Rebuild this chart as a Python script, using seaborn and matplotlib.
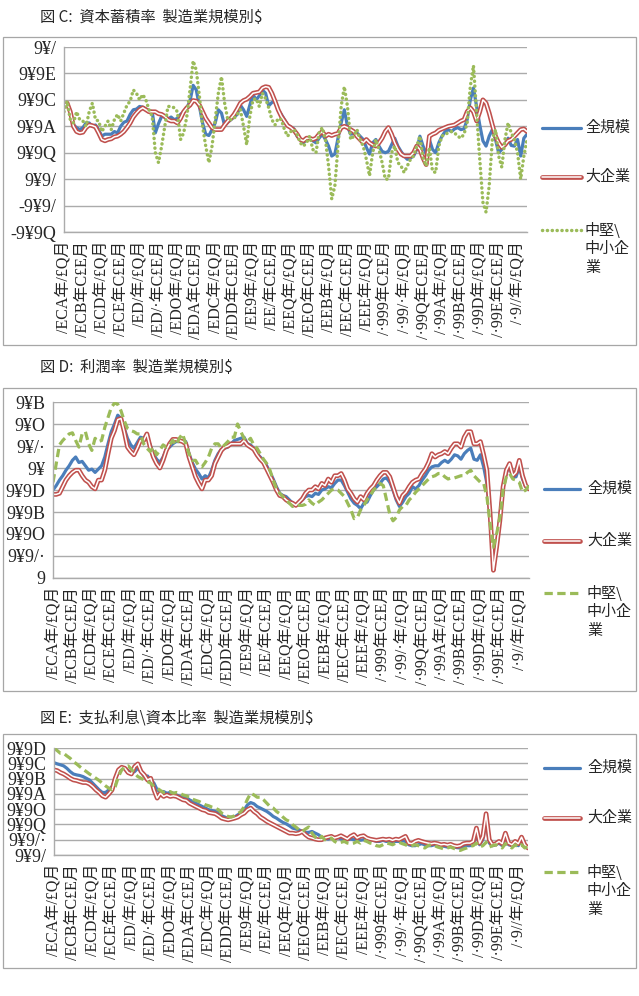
import matplotlib
matplotlib.use("Agg")
import matplotlib.patheffects as pe
import matplotlib.pyplot as plt
import numpy as np
import seaborn as sns
from matplotlib.lines import Line2D
from matplotlib.patches import Rectangle

# quarterly index, 1975 Q1 .. 2011 Q4
QUARTERS = np.arange(148)
TICK_LABELS = [
    "/ECA年/£Q月", "/ECB年C£E月", "/ECD年/£Q月", "/ECE年C£E月", "/ED/年/£Q月",
    "/ED/·年C£E月", "/EDO年/£Q月", "/EDA年C£E月", "/EDC年/£Q月", "/EDD年C£E月",
    "/EE9年/£Q月", "/EE/年C£E月", "/EEQ年/£Q月", "/EEO年C£E月", "/EEB年/£Q月",
    "/EEC年C£E月", "/EEE年/£Q月", "/·999年C£E月", "/·99/·年/£Q月", "/·99Q年C£E月",
    "/·99A年/£Q月", "/·99B年C£E月", "/·99D年/£Q月", "/·99E年C£E月", "/·9//年/£Q月",
]
SERIES = ["全規模", "大企業", "中堅\\", "中小企", "業"]

# 図7 capital accumulation rate (%)
CAP_ALL = [
    6.6, 6.6, 6.1, 5.1, 4.9, 4.75, 4.9, 5.25, 5.25, 5.0,
    5.1, 4.75, 4.25, 4.4, 4.4, 4.4, 4.6, 4.5, 5.0, 5.3,
    5.4, 5.9, 6.25, 6.3, 6.5, 6.45, 6.3, 6.2, 6.1, 4.5,
    5.2, 5.75, 5.7, 5.55, 5.7, 5.5, 5.6, 5.9, 6.1, 6.4,
    6.9, 8.1, 7.75, 6.5, 5.25, 4.4, 4.3, 4.75, 5.25, 6.25,
    6.0, 5.05, 5.3, 5.5, 5.7, 5.9, 6.6, 6.25, 5.75, 6.6,
    7.4, 7.0, 7.3, 7.75, 7.5, 6.55, 6.8, 6.9, 6.25, 5.9,
    5.5, 5.1, 4.95, 4.8, 4.25, 4.0, 3.75, 4.0, 4.1, 3.9,
    3.75, 4.1, 4.4, 4.0, 3.5, 2.75, 2.9, 4.1, 5.25, 6.25,
    5.0, 4.4, 4.45, 4.5, 4.25, 4.0, 3.4, 2.9, 3.75, 4.0,
    3.5, 3.1, 3.0, 3.1, 3.6, 4.1, 3.5, 3.1, 2.75, 2.5,
    2.6, 2.75, 3.25, 4.25, 3.5, 2.9, 4.0, 3.25, 3.0, 3.75,
    4.25, 4.6, 4.75, 4.6, 4.8, 4.9, 4.75, 4.8, 5.5, 7.0,
    7.9, 6.5, 5.1, 3.9, 3.5, 4.25, 4.75, 4.0, 3.0, 3.25,
    3.6, 4.1, 3.55, 3.5, 4.0, 2.75, 4.1, 4.4,
]
CAP_LARGE = [
    6.5, 6.75, 6.1, 5.0, 4.6, 4.5, 4.55, 4.9, 5.1, 5.05,
    4.95, 4.5, 4.0, 3.9, 4.0, 4.05, 4.2, 4.25, 4.4, 4.6,
    4.9, 5.25, 5.7, 6.0, 6.25, 6.4, 6.25, 6.1, 6.1, 6.1,
    5.95, 5.9, 5.75, 5.5, 5.4, 5.4, 5.25, 5.6, 6.1, 6.4,
    6.6, 6.95, 6.9, 6.6, 6.1, 5.6, 5.25, 4.9, 4.75, 4.75,
    4.75, 5.1, 5.4, 5.6, 5.9, 6.3, 6.75, 6.95, 7.05, 7.25,
    7.5, 7.55, 7.6, 7.9, 8.0, 7.95, 7.5, 6.9, 6.25, 5.75,
    5.4, 5.05, 4.9, 4.7, 4.4, 4.0, 3.9, 4.1, 4.1, 4.0,
    4.1, 4.4, 4.6, 4.25, 4.4, 4.3, 4.4, 4.45, 4.9, 5.0,
    4.9, 4.75, 4.6, 4.25, 4.0, 3.75, 4.0, 3.75, 3.6, 3.5,
    3.75, 4.1, 4.6, 4.9, 4.4, 3.75, 3.25, 2.9, 2.75, 2.75,
    2.75, 3.0, 3.5, 3.25, 2.6, 2.1, 4.25, 4.4, 4.5, 4.7,
    4.8, 4.9, 5.0, 5.05, 5.1, 5.25, 5.4, 5.5, 6.1, 6.4,
    6.1, 5.4, 6.1, 7.0, 6.75, 6.0, 5.1, 4.25, 3.75, 3.4,
    3.6, 3.9, 4.0, 4.25, 4.5, 4.75, 4.8, 4.6,
]
CAP_SME = [
    6.1, 6.9, 5.5, 5.25, 6.1, 5.5, 5.4, 5.0, 6.1, 6.75,
    5.5, 5.4, 4.6, 5.0, 5.4, 4.75, 5.5, 5.9, 5.4, 6.0,
    6.6, 6.9, 7.75, 7.5, 7.0, 7.4, 7.0, 6.25, 5.75, 3.0,
    2.25, 3.5, 5.0, 6.5, 6.5, 6.4, 6.1, 4.0, 4.5, 5.75,
    7.75, 9.95, 9.25, 7.25, 5.0, 3.5, 2.25, 3.5, 5.5, 7.5,
    8.75, 6.75, 5.5, 5.5, 5.6, 5.9, 6.25, 5.0, 3.6, 5.75,
    7.0, 7.1, 6.5, 7.5, 7.1, 6.4, 5.5, 5.1, 5.6, 5.5,
    4.75, 4.25, 4.6, 4.75, 4.4, 3.75, 3.5, 3.75, 4.25, 3.25,
    3.0, 4.5, 4.9, 4.0, 2.0, -0.5, 0.5, 3.5, 6.5, 8.0,
    6.5, 4.0, 4.25, 4.75, 4.0, 3.5, 2.5, 1.25, 3.0, 4.0,
    3.25, 2.25, 1.0, 1.0, 3.0, 3.5, 2.25, 2.0, 1.5, 2.0,
    2.5, 2.75, 3.5, 4.25, 2.6, 2.0, 3.4, 1.6, 1.5, 3.5,
    4.25, 4.4, 4.5, 4.6, 4.5, 4.25, 4.1, 4.4, 5.25, 8.0,
    9.6, 6.0, 2.5, -0.75, -1.5, 0.5, 4.0, 4.75, 2.75, 1.9,
    4.0, 5.25, 4.5, 4.0, 3.0, 1.0, 2.75, 4.0,
]

# 図8 profit rate (%)
PROFIT_ALL = [
    8.0, 8.4, 8.9, 9.3, 9.8, 10.2, 10.7, 11.0, 10.5, 10.6,
    10.2, 9.8, 9.9, 9.6, 9.9, 10.2, 11.0, 12.2, 13.3, 14.0,
    14.8, 14.5, 13.6, 12.7, 12.1, 11.8, 12.3, 12.8, 12.7, 12.9,
    12.1, 11.3, 10.8, 10.5, 11.0, 11.7, 11.9, 12.2, 12.4, 12.4,
    12.5, 12.4, 11.3, 10.5, 9.9, 9.5, 9.0, 9.3, 9.1, 9.8,
    10.7, 11.3, 11.7, 11.8, 11.9, 12.2, 12.5, 12.6, 12.7, 12.8,
    12.2, 12.1, 11.8, 11.3, 11.0, 10.7, 10.2, 9.6, 9.0, 8.3,
    7.7, 7.5, 7.4, 7.1, 6.8, 6.6, 6.8, 7.1, 7.4, 7.5,
    7.4, 7.7, 7.6, 8.0, 8.1, 8.3, 8.2, 8.6, 8.9, 8.9,
    8.4, 7.8, 7.2, 6.8, 6.6, 6.3, 6.8, 6.9, 7.5, 8.0,
    8.3, 8.6, 9.0, 9.1, 8.7, 8.0, 7.1, 6.5, 6.9, 7.4,
    7.7, 8.3, 8.1, 8.4, 8.9, 9.3, 9.8, 10.1, 10.2, 10.2,
    10.5, 10.7, 10.5, 10.8, 11.2, 11.1, 10.8, 11.3, 11.6, 11.8,
    10.8, 10.7, 11.2, 10.1, 8.6, 5.5, 1.6, 3.1, 5.5, 8.3,
    9.6, 10.1, 9.2, 9.2, 10.1, 9.0, 8.3, 8.1,
]
PROFIT_LARGE = [
    7.6, 7.6, 7.7, 8.3, 8.9, 9.3, 9.6, 9.8, 9.8, 9.3,
    8.9, 8.7, 8.3, 8.1, 8.9, 8.9, 9.8, 11.3, 12.7, 13.4,
    14.4, 14.5, 13.3, 11.9, 11.5, 11.2, 11.8, 12.5, 12.5, 13.1,
    11.9, 11.0, 10.4, 10.0, 10.7, 11.6, 12.2, 12.6, 12.6, 12.5,
    12.4, 12.2, 11.0, 10.1, 9.2, 8.6, 8.1, 8.9, 8.9, 9.3,
    10.4, 11.0, 11.6, 11.9, 12.0, 12.2, 12.2, 12.2, 12.2, 12.5,
    12.1, 11.9, 11.7, 11.2, 10.8, 10.5, 9.9, 9.3, 8.7, 8.0,
    7.5, 7.4, 7.1, 6.9, 6.8, 6.6, 6.9, 7.2, 7.7, 8.0,
    8.0, 8.3, 8.1, 8.6, 8.4, 9.0, 8.7, 9.3, 9.3, 9.5,
    8.9, 8.1, 7.7, 7.2, 6.9, 7.4, 7.1, 7.7, 8.1, 8.4,
    8.9, 9.3, 9.6, 9.6, 9.2, 8.3, 7.4, 6.8, 7.5, 7.8,
    8.3, 8.7, 8.9, 9.0, 9.5, 9.9, 10.5, 11.3, 11.0, 11.2,
    11.3, 11.5, 11.3, 11.8, 12.2, 12.2, 11.9, 12.8, 13.3, 13.3,
    12.2, 12.2, 12.4, 11.2, 9.8, 5.8, 0.7, 2.8, 5.2, 8.3,
    9.8, 10.4, 9.3, 9.6, 10.7, 9.3, 8.4, 8.1,
]
PROFIT_SME = [
    8.7, 10.4, 12.1, 12.5, 12.8, 13.1, 13.2, 12.5, 11.9, 13.1,
    13.3, 12.2, 11.6, 12.7, 12.4, 12.5, 13.7, 14.6, 15.5, 15.9,
    15.8, 15.2, 14.3, 13.6, 13.4, 13.3, 13.1, 13.1, 12.2, 11.8,
    11.5, 11.9, 11.2, 11.6, 12.1, 11.9, 12.1, 12.5, 12.1, 12.7,
    13.1, 12.2, 11.3, 10.7, 10.7, 10.2, 10.1, 10.5, 11.0, 11.8,
    12.2, 12.2, 11.8, 12.1, 12.4, 12.8, 12.8, 14.0, 13.3, 12.7,
    12.4, 12.7, 12.1, 11.8, 11.3, 10.8, 10.4, 9.8, 8.9, 8.1,
    7.7, 7.4, 7.1, 6.8, 6.5, 6.6, 6.6, 6.6, 6.7, 7.1,
    6.8, 6.6, 6.9, 7.1, 7.4, 7.7, 8.0, 8.1, 8.0, 7.7,
    7.4, 6.8, 6.2, 5.4, 5.5, 6.2, 6.6, 7.1, 7.5, 8.0,
    8.3, 8.6, 8.4, 7.1, 5.8, 5.2, 5.5, 6.2, 6.5, 6.6,
    7.1, 7.4, 7.8, 8.1, 8.4, 8.7, 9.0, 9.2, 9.3, 9.5,
    9.5, 9.2, 9.0, 9.1, 9.1, 9.2, 9.3, 9.3, 9.6, 9.8,
    9.3, 9.0, 8.7, 8.6, 7.4, 4.9, 2.8, 4.0, 5.5, 8.0,
    9.2, 9.5, 9.0, 8.9, 8.7, 7.8, 8.0, 8.4,
]

# 図9 interest paid / capital (0.1 % units)
INTEREST_ALL = [
    7.04, 6.96, 6.9, 6.83, 6.67, 6.46, 6.3, 6.24, 6.2, 6.13,
    6.02, 5.91, 5.7, 5.48, 5.26, 5.09, 5.09, 5.26, 5.48, 6.02,
    6.46, 6.67, 6.67, 6.52, 6.35, 6.46, 6.67, 6.46, 6.13, 6.17,
    5.91, 5.7, 5.26, 5.15, 5.15, 5.04, 5.09, 5.04, 4.93, 4.83,
    4.83, 4.78, 4.61, 4.5, 4.39, 4.28, 4.17, 4.07, 3.96, 3.91,
    3.85, 3.78, 3.57, 3.48, 3.41, 3.48, 3.48, 3.63, 3.74, 3.96,
    4.28, 4.43, 4.35, 4.17, 4.07, 3.96, 3.85, 3.7, 3.52, 3.41,
    3.26, 3.13, 3.04, 2.91, 2.76, 2.7, 2.65, 2.54, 2.48, 2.48,
    2.54, 2.43, 2.33, 2.17, 2.11, 2.04, 2.11, 2.04, 2.15, 2.04,
    2.0, 2.0, 2.04, 2.0, 2.04, 1.96, 2.0, 2.04, 2.0, 1.96,
    1.89, 1.89, 1.96, 1.89, 1.89, 1.83, 1.89, 1.89, 1.93, 1.89,
    1.67, 1.61, 1.61, 1.67, 1.74, 1.67, 1.61, 1.61, 1.67, 1.61,
    1.57, 1.57, 1.52, 1.57, 1.52, 1.48, 1.46, 1.57, 1.61, 1.61,
    1.67, 2.33, 1.67, 2.0, 3.41, 1.78, 1.61, 1.67, 1.78, 1.61,
    2.22, 1.67, 1.61, 1.74, 1.61, 2.0, 1.57, 1.46,
]
INTEREST_LARGE = [
    6.57, 6.52, 6.39, 6.3, 6.17, 6.02, 5.91, 5.87, 5.8, 5.74,
    5.74, 5.65, 5.48, 5.26, 5.09, 4.87, 4.78, 5.0, 5.26, 6.02,
    6.57, 6.74, 6.67, 6.39, 6.3, 6.78, 6.96, 6.46, 6.24, 5.91,
    6.02, 5.26, 4.72, 5.04, 4.83, 4.93, 4.83, 4.87, 4.83, 4.72,
    4.61, 4.57, 4.39, 4.28, 4.17, 4.07, 3.96, 3.91, 3.78, 3.74,
    3.7, 3.57, 3.41, 3.35, 3.3, 3.35, 3.41, 3.48, 3.63, 3.74,
    3.96, 4.07, 3.85, 3.7, 3.48, 3.35, 3.2, 3.09, 2.98, 2.87,
    2.76, 2.65, 2.54, 2.43, 2.43, 2.39, 2.43, 2.54, 2.33, 2.17,
    2.11, 2.04, 2.0, 2.0, 2.11, 2.17, 2.22, 2.11, 2.17, 2.26,
    2.15, 2.04, 2.22, 2.33, 2.11, 2.22, 2.26, 2.11, 2.04, 2.0,
    1.96, 2.0, 2.04, 2.0, 2.04, 1.96, 2.04, 2.0, 2.11, 2.22,
    1.78, 1.74, 1.89, 1.96, 1.89, 1.83, 1.78, 1.74, 1.78, 1.74,
    1.67, 1.7, 1.65, 1.7, 1.61, 1.57, 1.61, 1.74, 1.78, 1.78,
    1.89, 2.76, 1.78, 2.22, 3.7, 2.0, 1.67, 1.74, 1.89, 1.74,
    2.43, 1.78, 1.67, 1.89, 1.74, 2.17, 1.67, 1.46,
]
INTEREST_SME = [
    7.98, 7.83, 7.65, 7.65, 7.48, 7.33, 7.11, 6.96, 6.78, 6.61,
    6.46, 6.3, 6.17, 6.02, 5.87, 5.7, 5.52, 5.37, 5.26, 5.48,
    6.13, 6.57, 6.78, 6.83, 6.61, 6.35, 6.13, 6.02, 5.91, 5.8,
    5.7, 5.48, 5.37, 5.22, 5.09, 5.09, 5.15, 5.04, 5.09, 5.04,
    4.93, 4.87, 4.78, 4.65, 4.57, 4.5, 4.39, 4.28, 4.22, 4.13,
    4.07, 3.96, 3.74, 3.63, 3.52, 3.48, 3.57, 3.7, 3.85, 4.17,
    4.65, 5.04, 4.93, 4.78, 4.78, 4.61, 4.39, 4.17, 4.07, 3.85,
    3.7, 3.48, 3.3, 3.2, 2.98, 2.83, 2.65, 2.54, 2.7, 2.83,
    2.43, 2.17, 2.0, 2.22, 2.0, 2.04, 2.11, 1.89, 1.78, 1.83,
    1.89, 1.78, 1.74, 1.78, 1.89, 1.78, 1.96, 1.89, 1.78, 1.74,
    1.61, 1.57, 1.67, 1.78, 1.74, 1.67, 1.78, 1.83, 1.74, 1.67,
    1.57, 1.61, 1.67, 1.61, 1.52, 1.46, 1.61, 1.67, 1.61, 1.52,
    1.46, 1.39, 1.46, 1.52, 1.43, 1.35, 1.3, 1.39, 1.46, 1.57,
    1.61, 1.78, 1.52, 1.61, 1.83, 1.52, 1.61, 1.67, 1.57, 1.46,
    1.74, 1.61, 1.46, 1.67, 1.52, 1.67, 1.46, 1.57,
]

CAP_TICKS = [-3, -1, 1, 3, 5, 7, 9, 11]
CAP_TICK_LABELS = ["-9¥9Q", "-9¥9/", "9¥9/", "9¥9Q", "9¥9A", "9¥9C", "9¥9E", "9¥/"]
PROFIT_TICKS = [0, 2, 4, 6, 8, 10, 12, 14, 16]
PROFIT_TICK_LABELS = ["9", "9¥9/·", "9¥9O", "9¥9B", "9¥9D", "9¥", "9¥/·", "9¥O", "9¥B"]
INTEREST_TICKS = [1, 2, 3, 4, 5, 6, 7, 8]
INTEREST_TICK_LABELS = ["9¥9/", "9¥9/·", "9¥9Q", "9¥9O", "9¥9A", "9¥9B", "9¥9C", "9¥9D"]

TITLES = [
    "図 C:  資本蓄積率  製造業規模別$",
    "図 D:  利潤率  製造業規模別$",
    "図 E:  支払利息\\資本比率  製造業規模別$",
]

BLUE = "#4A7EBB"
RED = "#C0504D"
GREEN = "#9BBB59"
GRID = "#ABABAB"
TICK_FONT = ["Liberation Serif", "Noto Sans CJK JP", "DejaVu Sans"]
DOTTED = (0, (0.05, 1.35))
DASHED = (0, (2.6, 1.4))

sns.set_style("white")
plt.rcParams["font.family"] = ["Noto Sans CJK JP", "DejaVu Sans"]

W, H = 639, 996
fig = plt.figure(figsize=(W / 100, H / 100), dpi=100)


def fx(px):
    return px / W


def fy(px):
    return 1 - px / H


def red_effects():
    return [pe.Stroke(linewidth=3.4, foreground=RED), pe.Normal()]


def add_legend(x_line, x_text, ys, green_dash):
    # legend drawn by hand so the wrapped label keeps its sample on the first line
    styles = [
        dict(color=BLUE, linewidth=2.3),
        dict(color="white", linewidth=1.1, path_effects=red_effects()),
        dict(color=GREEN, linewidth=2.5 if green_dash == DOTTED else 2.3,
             linestyle=green_dash,
             dash_capstyle="round" if green_dash == DOTTED else "butt"),
    ]
    for y, style in zip(ys[:3], styles):
        fig.add_artist(Line2D([fx(x_line[0]), fx(x_line[1])], [fy(y), fy(y)],
                              transform=fig.transFigure, **style))
    for y, name in zip(ys, SERIES):
        fig.text(fx(x_text), fy(y), name, fontsize=10.8, va="center", ha="left")


def draw_panel(index, box, axes_px, title_y, series, ticks, tick_labels, green_dash):
    x0, y0, x1, y1 = box
    fig.add_artist(Rectangle((fx(x0), fy(y1)), fx(x1 - x0), (y1 - y0) / H,
                             transform=fig.transFigure, fill=False,
                             edgecolor="#A6A6A6", linewidth=0.9))
    fig.text(fx(40), fy(title_y), TITLES[index], fontsize=11,
             va="center", ha="left")

    l, t, r, b = axes_px
    ax = fig.add_axes([fx(l), fy(b), fx(r - l), (b - t) / H])

    all_s, large_s, sme_s = series
    sns.lineplot(x=QUARTERS, y=all_s, ax=ax, color=BLUE, linewidth=2.3)
    sns.lineplot(x=QUARTERS, y=large_s, ax=ax, color="white", linewidth=1.1)
    ax.lines[-1].set_path_effects(red_effects())
    sns.lineplot(x=QUARTERS, y=sme_s, ax=ax, color=GREEN,
                 linewidth=2.5 if green_dash == DOTTED else 2.3)
    green = ax.lines[-1]
    green.set_linestyle(green_dash)
    if green_dash == DOTTED:
        green.set_dash_capstyle("round")

    ax.set_xlim(QUARTERS[0], QUARTERS[-1])
    ax.set_ylim(ticks[0], ticks[-1])
    ax.set_yticks(ticks)
    ax.set_yticklabels(tick_labels, family=TICK_FONT, fontsize=13)
    ax.set_xticks(QUARTERS[::6])
    ax.set_xticklabels(TICK_LABELS, rotation=90, family=TICK_FONT, fontsize=11.5)
    ax.set_xticks(QUARTERS, minor=True)
    ax.tick_params(axis="both", which="both", direction="out", length=3.5,
                   width=0.7, color=GRID, pad=2)
    ax.tick_params(axis="x", which="major", pad=3)
    ax.yaxis.grid(True, color=GRID, linewidth=1.0)
    ax.set_axisbelow(True)
    for side in ("top", "right"):
        ax.spines[side].set_visible(False)
    for side in ("left", "bottom"):
        ax.spines[side].set_color(GRID)
        ax.spines[side].set_linewidth(1.0)
    ax.set_xlabel("")
    ax.set_ylabel("")
    return ax


draw_panel(0, (3, 37, 636, 345), (64, 47, 527, 232), 17,
           (CAP_ALL, CAP_LARGE, CAP_SME), CAP_TICKS, CAP_TICK_LABELS, DOTTED)
add_legend((542, 581), 585, [128, 177, 230, 249, 268], DOTTED)

draw_panel(1, (3, 388, 636, 691), (53, 402, 529, 578), 368,
           (PROFIT_ALL, PROFIT_LARGE, PROFIT_SME), PROFIT_TICKS,
           PROFIT_TICK_LABELS, DASHED)
add_legend((544, 580), 587, [489, 541, 593, 612, 631], DASHED)

draw_panel(2, (3, 734, 636, 968), (54, 748, 528, 855), 718,
           (INTEREST_ALL, INTEREST_LARGE, INTEREST_SME), INTEREST_TICKS,
           INTEREST_TICK_LABELS, DASHED)
add_legend((544, 580), 587, [768, 818, 872, 891, 910], DASHED)

fig.savefig("out.png", dpi=100)
plt.close(fig)
